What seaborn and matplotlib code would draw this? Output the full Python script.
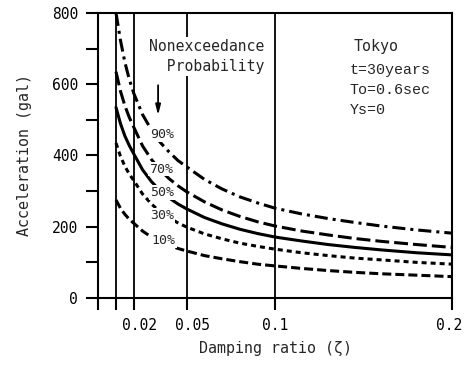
import matplotlib
matplotlib.use("Agg")
import matplotlib.pyplot as plt
import seaborn as sns
import pandas as pd
from matplotlib.transforms import ScaledTranslation

# ---- data ----
zeta = [0.01, 0.0125, 0.015, 0.0175, 0.02, 0.025, 0.03, 0.035, 0.04, 0.045, 0.05,
        0.06, 0.07, 0.08, 0.09, 0.1, 0.115, 0.13, 0.145, 0.16, 0.18, 0.2]
acc_90 = [800, 724, 662, 614, 575, 515, 472, 437, 410, 386, 368,
          333, 306, 284, 267, 252, 236, 223, 212, 202, 191, 182]
acc_70 = [635, 581, 540, 507, 480, 427, 389, 359, 335, 315, 298,
          270, 247, 229, 214, 202, 188, 177, 167, 159, 150, 142]
acc_50 = [535, 490, 455, 428, 405, 360, 327, 301, 281, 264, 250,
          226, 208, 193, 181, 171, 160, 150, 142, 135, 127, 121]
acc_30 = [435, 398, 370, 348, 330, 292, 264, 242, 225, 211, 199,
          180, 166, 154, 145, 137, 127, 119, 112, 107, 100, 95]
acc_10 = [275, 252, 235, 221, 210, 188, 171, 158, 148, 139, 132,
          119, 110, 102, 95, 90, 83, 77, 72, 68, 64, 60]
prob_labels = ["90%", "70%", "50%", "30%", "10%"]
label_pos = [(0.0358, 458), (0.0355, 362), (0.0360, 296), (0.0362, 232), (0.0370, 162)]
x_ticks = [0, 0.01, 0.02, 0.05, 0.1, 0.2]
x_ticklabels = ["", "", "0.02", "0.05", "0.1", "0.2"]
y_major = [0, 200, 400, 600, 800]
y_minor = [100, 300, 500, 700]

rows = []
for lab, arr in zip(prob_labels, [acc_90, acc_70, acc_50, acc_30, acc_10]):
    for z, a in zip(zeta, arr):
        rows.append({"zeta": z, "acc": a, "prob": lab})
df = pd.DataFrame(rows)

sns.set_style("ticks")
plt.rcParams["font.family"] = ["DejaVu Sans Mono", "DejaVu Sans"]
plt.rcParams["lines.scale_dashes"] = False

fig = plt.figure(figsize=(4.7, 3.66), dpi=100)
ax = fig.add_axes([0.2092, 0.1858, 0.9617 - 0.2092, 0.9645 - 0.1858])

dashes = {
    "90%": (9.4, 3.6, 2.2, 3.6),
    "70%": (10.0, 3.6),
    "50%": "",
    "30%": (3.6, 2.9),
    "10%": (6.5, 2.9),
}
sns.lineplot(data=df, x="zeta", y="acc", style="prob", dashes=dashes,
             color="black", lw=2.2, legend=False, ax=ax, zorder=3)

ax.set_xlim(0, 0.2)
ax.set_ylim(0, 800)
ax.set_xticks(x_ticks)
ax.set_xticklabels(x_ticklabels)
ax.set_yticks(y_major)
ax.set_yticks(y_minor, minor=True)

for v in [0.01, 0.02, 0.05, 0.1]:
    ax.axvline(v, color="black", lw=1.3, zorder=1)

for s in ax.spines.values():
    s.set_color("black")
    s.set_linewidth(1.5)

ax.tick_params(axis="both", which="both", direction="out", length=8.6,
               width=1.5, color="black", labelsize=10.5, labelcolor="black")
ax.tick_params(axis="y", pad=6)
ax.tick_params(axis="x", pad=5.5)

# shift crowded x tick labels a little, as in the original
for lbl in ax.get_xticklabels():
    if lbl.get_text() in ("0.02", "0.05"):
        lbl.set_transform(lbl.get_transform() + ScaledTranslation(6 / 100, 0, fig.dpi_scale_trans))
    if lbl.get_text() == "0.2":
        lbl.set_transform(lbl.get_transform() + ScaledTranslation(-3 / 100, 0, fig.dpi_scale_trans))

ax.set_xlabel("Damping ratio (\u03b6)", fontsize=10.8, labelpad=6)
ax.set_ylabel("Acceleration (gal)", fontsize=10.8, labelpad=14)

for lab, (x, y) in zip(prob_labels, label_pos):
    ax.text(x, y, lab, fontsize=9.5, ha="center", va="center", zorder=5,
            bbox=dict(fc="white", ec="none", pad=0.6))

ax.text(0.0610, 678, "Nonexceedance\n  Probability", fontsize=10.6, ha="center",
        va="center", linespacing=1.35, zorder=5,
        bbox=dict(fc="white", ec="none", pad=1.5))
ax.annotate("", xy=(0.0338, 505), xytext=(0.0338, 605),
            arrowprops=dict(arrowstyle="-|>,head_length=0.6,head_width=0.15",
                            color="black", lw=1.3), zorder=5)

ax.text(0.1445, 705, "Tokyo", fontsize=10.8, ha="left", va="center")
ax.text(0.1423, 640, "t=30years", fontsize=10.8, ha="left", va="center",
        family=["Liberation Mono", "DejaVu Sans Mono"])
ax.text(0.1423, 584, "To=0.6sec", fontsize=10.8, ha="left", va="center",
        family=["Liberation Mono", "DejaVu Sans Mono"])
ax.text(0.1423, 528, "Ys=0", fontsize=10.8, ha="left", va="center",
        family=["Liberation Mono", "DejaVu Sans Mono"])

fig.savefig("out.png", dpi=100, facecolor="white")
